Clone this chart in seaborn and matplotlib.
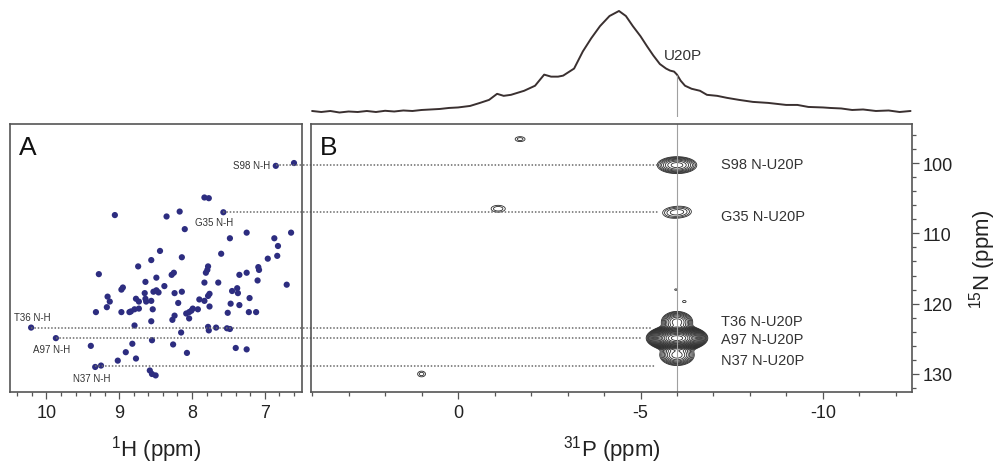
import numpy as np
import pandas as pd
import matplotlib
matplotlib.use('Agg')
import matplotlib.pyplot as plt
import seaborn as sns

# 1H-15N HSQC peaks (panel A): 1H ppm, 15N ppm
hsqc_h = [6.85, 6.60, 7.83, 7.77, 9.06, 8.35, 8.17, 7.57, 8.10, 7.48,
          7.25, 6.87, 6.64, 6.82, 6.83, 6.96, 7.60, 8.14, 8.44, 8.56,
          8.74, 7.78, 7.79, 8.28, 8.25, 7.81, 7.35, 7.25, 7.09, 7.08,
          9.28, 8.49, 8.64, 8.38, 7.83, 7.64, 7.10, 6.70, 8.95, 8.97,
          8.65, 8.53, 8.49, 8.46, 8.24, 8.14, 7.45, 7.38, 7.37, 7.76,
          7.78, 7.83, 7.90, 9.16, 9.13, 8.77, 8.73, 8.64, 8.63, 8.56,
          8.19, 7.47, 7.35, 7.21, 7.76, 9.17, 8.84, 8.79, 8.73, 8.86,
          8.97, 9.32, 8.54, 7.99, 8.01, 8.04, 8.08, 7.92, 7.51, 7.22,
          7.12, 8.24, 8.27, 8.04, 8.56, 8.79, 10.21, 7.78, 7.77, 7.67,
          7.52, 7.48, 8.15, 9.87, 8.55, 9.39, 8.82, 8.26, 7.40, 7.25,
          8.91, 8.07, 8.77, 9.02, 9.33, 9.25, 8.58, 8.55, 8.50]
hsqc_n = [100.4, 100.0, 104.9, 105.0, 107.4, 107.6, 106.9, 107.0, 109.4, 110.7,
          109.9, 110.7, 109.9, 111.8, 113.2, 113.6, 112.9, 113.4, 112.5, 113.8,
          114.7, 114.7, 115.2, 115.9, 115.6, 115.6, 115.9, 115.6, 114.8, 115.2,
          115.8, 116.3, 116.9, 117.5, 117.0, 117.0, 116.7, 117.3, 117.7, 118.0,
          118.5, 118.3, 118.1, 118.4, 118.5, 118.3, 118.2, 117.8, 118.5, 118.6,
          118.9, 119.6, 119.4, 119.0, 119.7, 119.3, 119.7, 119.3, 119.7, 119.6,
          119.9, 120.0, 120.2, 119.2, 120.4, 120.5, 121.1, 120.8, 120.7, 121.2,
          121.2, 121.2, 120.8, 120.7, 121.0, 121.2, 121.4, 120.8, 121.3, 121.2,
          121.2, 121.7, 122.3, 122.1, 122.5, 123.1, 123.4, 123.3, 123.8, 123.4,
          123.5, 123.6, 124.1, 124.9, 125.2, 126.0, 125.7, 125.8, 126.3, 126.5,
          126.9, 127.0, 127.8, 128.1, 129.0, 128.8, 129.5, 130.0, 130.2]

# assigned residues: 1H and 15N of the N-H peak, end of the dotted line in 31P
assigned = ['S98', 'G35', 'T36', 'A97', 'N37']
assigned_h = [6.85, 7.57, 10.21, 9.87, 9.33]
assigned_n = [100.3, 107.0, 123.4, 124.9, 128.9]
line_end_p = [-5.45, -5.5, -5.3, -5.0, -5.4]
# label anchors in panel A (1H, 15N) and panel B (15N)
label_a_h = [6.93, 7.96, 10.44, 10.19, 9.64]
label_a_n = [100.3, 108.4, 121.9, 126.5, 130.6]
label_b_n = [100.1, 107.5, 122.5, 125.0, 128.0]
label_b_p = -7.2

# 2D 31P-15N peaks (panel B): 31P ppm, 15N ppm, amplitude, widths
peak_p = [-6.0, -5.85, -6.15, -6.0, -6.0, -6.0, -1.7, -1.1, 1.0, -5.97, -6.2]
peak_n = [100.3, 107.1, 106.9, 122.6, 124.9, 127.3, 96.6, 106.5, 130.0, 118.0, 119.7]
peak_amp = [0.75, 0.17, 0.17, 1.0, 30.0, 1.0, 0.15, 0.16, 0.15, 0.11, 0.12]
peak_wp = [0.27, 0.22, 0.22, 0.2, 0.25, 0.22, 0.15, 0.2, 0.12, 0.08, 0.08]
peak_wn = [0.6, 0.6, 0.6, 0.7, 0.55, 0.7, 0.39, 0.5, 0.45, 0.25, 0.25]

# 1D 31P spectrum (top)
spec_p = [4.0, 3.75, 3.5, 3.25, 3.0, 2.75, 2.5, 2.25, 2.0, 1.75, 1.5, 1.25,
          1.0, 0.75, 0.5, 0.25, 0.0, -0.33, -0.6, -0.85, -1.07, -1.25, -1.45,
          -1.81, -2.11, -2.36, -2.55, -2.74, -2.88, -3.18, -3.42, -3.65, -3.89,
          -4.15, -4.41, -4.6, -4.79, -5.0, -5.18, -5.35, -5.53, -5.7, -5.81,
          -5.92, -6.0, -6.1, -6.22, -6.4, -6.63, -6.82, -7.1, -7.37, -7.7,
          -8.08, -8.5, -8.99, -9.3, -9.6, -10.0, -10.2, -10.5, -10.8, -11.1,
          -11.45, -11.8, -12.1, -12.4]
spec_i = [0.01, 0.0, 0.01, -0.005, 0.005, 0.0, 0.01, 0.0, 0.012, 0.005, 0.015, 0.01,
          0.02, 0.025, 0.03, 0.04, 0.045, 0.06, 0.09, 0.12, 0.18, 0.16, 0.17,
          0.21, 0.26, 0.37, 0.35, 0.35, 0.36, 0.43, 0.60, 0.73, 0.85,
          0.95, 1.0, 0.95, 0.85, 0.75, 0.65, 0.56, 0.475, 0.43, 0.41,
          0.40, 0.37, 0.31, 0.26, 0.23, 0.21, 0.17, 0.16, 0.14, 0.12,
          0.10, 0.09, 0.07, 0.07, 0.05, 0.045, 0.04, 0.035, 0.02, 0.025,
          0.01, 0.015, 0.0, 0.01]
u20p_p = -6.0
u20p_i = 0.37

h_lim = (10.5, 6.49)
p_lim = (4.03, -12.44)
n_lim = (132.56, 94.45)

sns.set_theme(style='white')
plt.rcParams['font.family'] = ['Liberation Sans', 'DejaVu Sans']
plt.rcParams['mathtext.fontset'] = 'custom'
plt.rcParams['mathtext.rm'] = 'Liberation Sans'

W, H = 1004, 464
fig = plt.figure(figsize=(W / 100, H / 100), dpi=100)
ax_a = fig.add_axes([10 / W, 71 / H, 292 / W, 268 / H])
ax_b = fig.add_axes([311 / W, 71 / H, 601 / W, 268 / H])
ax_s = fig.add_axes([311 / W, 346 / H, 601 / W, 114 / H])

edge = '#555555'
dot_col = '#6a6a6a'
txt_col = '#333333'

# ---- panel A
df_a = pd.DataFrame({'H': hsqc_h, 'N': hsqc_n})
sns.scatterplot(data=df_a, x='H', y='N', ax=ax_a, color='#2d2d80',
                s=20, edgecolor='none', legend=False)
for name, h, n, lh, ln in zip(assigned, assigned_h, assigned_n, label_a_h, label_a_n):
    ax_a.hlines(n, h, h_lim[1], colors=dot_col, linestyles=(0, (1, 1.2)), lw=1.1)
    ha = 'right' if name == 'S98' else 'left'
    ax_a.text(lh, ln, name + ' N-H', fontsize=7, color=txt_col, ha=ha, va='center')
ax_a.set_xlim(h_lim)
ax_a.set_ylim(n_lim)
ax_a.set_xticks([10, 9, 8, 7])
ax_a.set_xticks(np.arange(6.6, 10.5, 0.2), minor=True)
ax_a.set_yticks([])
ax_a.set_xlabel(r'$^{1}$H (ppm)', fontsize=16, labelpad=8, color='#222222')
ax_a.set_ylabel('')
ax_a.text(0.03, 0.96, 'A', transform=ax_a.transAxes, fontsize=19, va='top', color='#111111')

# ---- panel B
pp, nn = np.meshgrid(np.linspace(-12.6, 4.2, 900), np.linspace(94, 133, 700))
field = np.zeros_like(pp)
for p0, n0, a, wp, wn in zip(peak_p, peak_n, peak_amp, peak_wp, peak_wn):
    field += a * np.exp(-0.5 * (((pp - p0) / wp) ** 2 + ((nn - n0) / wn) ** 2))
levels = 0.1 * 1.3 ** np.arange(22)
ax_b.contour(pp, nn, field, levels=levels, colors='#2a2a2a', linewidths=0.6)
for name, n, pe, ln in zip(assigned, assigned_n, line_end_p, label_b_n):
    ax_b.hlines(n, 4.25, pe, colors=dot_col, linestyles=(0, (1, 1.2)), lw=1.1, clip_on=False)
    ax_b.text(label_b_p, ln, name + ' N-U20P', fontsize=10.5, color=txt_col, va='center')
ax_b.axvline(u20p_p, color='#a0a0a0', lw=0.8)
ax_b.set_xlim(p_lim)
ax_b.set_ylim(n_lim)
ax_b.set_xticks([0, -5, -10])
ax_b.set_xticklabels(['0', '-5', '-10'])
ax_b.set_xticks(np.arange(-12, 4.1, 1), minor=True)
ax_b.yaxis.tick_right()
ax_b.yaxis.set_label_position('right')
ax_b.set_yticks([100, 110, 120, 130])
ax_b.set_yticks(np.arange(96, 133, 2), minor=True)
ax_b.set_xlabel(r'$^{31}$P (ppm)', fontsize=16, labelpad=8, color='#222222')
ax_b.set_ylabel(r'$^{15}$N (ppm)', fontsize=16, labelpad=10, color='#222222')
ax_b.text(0.015, 0.96, 'B', transform=ax_b.transAxes, fontsize=19, va='top', color='#111111')

for ax in (ax_a, ax_b):
    for sp in ax.spines.values():
        sp.set_color(edge)
        sp.set_linewidth(1.2)
        sp.set_visible(True)
    ax.tick_params(which='both', direction='out', color=edge, width=0.9,
                   labelsize=13, labelcolor='#222222', pad=4)
    ax.tick_params(which='major', length=5)
    ax.tick_params(which='minor', length=3)
    ax.tick_params(axis='x', which='both', bottom=True, top=False)
ax_a.tick_params(axis='y', which='both', left=False, right=False)
ax_b.tick_params(axis='y', which='both', left=False, right=True, pad=3)

# ---- 1D spectrum
df_s = pd.DataFrame({'P': spec_p, 'I': spec_i})
sns.lineplot(data=df_s, x='P', y='I', ax=ax_s, color='#3a3030', lw=1.4, sort=False)
ax_s.vlines(u20p_p, -0.05, u20p_i, colors='#a0a0a0', lw=0.8)
ax_s.text(u20p_p - 0.15, 0.56, 'U20P', fontsize=11, color=txt_col, ha='center', va='center')
ax_s.set_xlim(p_lim)
ax_s.set_ylim(-0.0495, 1.079)
ax_s.axis('off')

fig.savefig('out.png', dpi=100)
